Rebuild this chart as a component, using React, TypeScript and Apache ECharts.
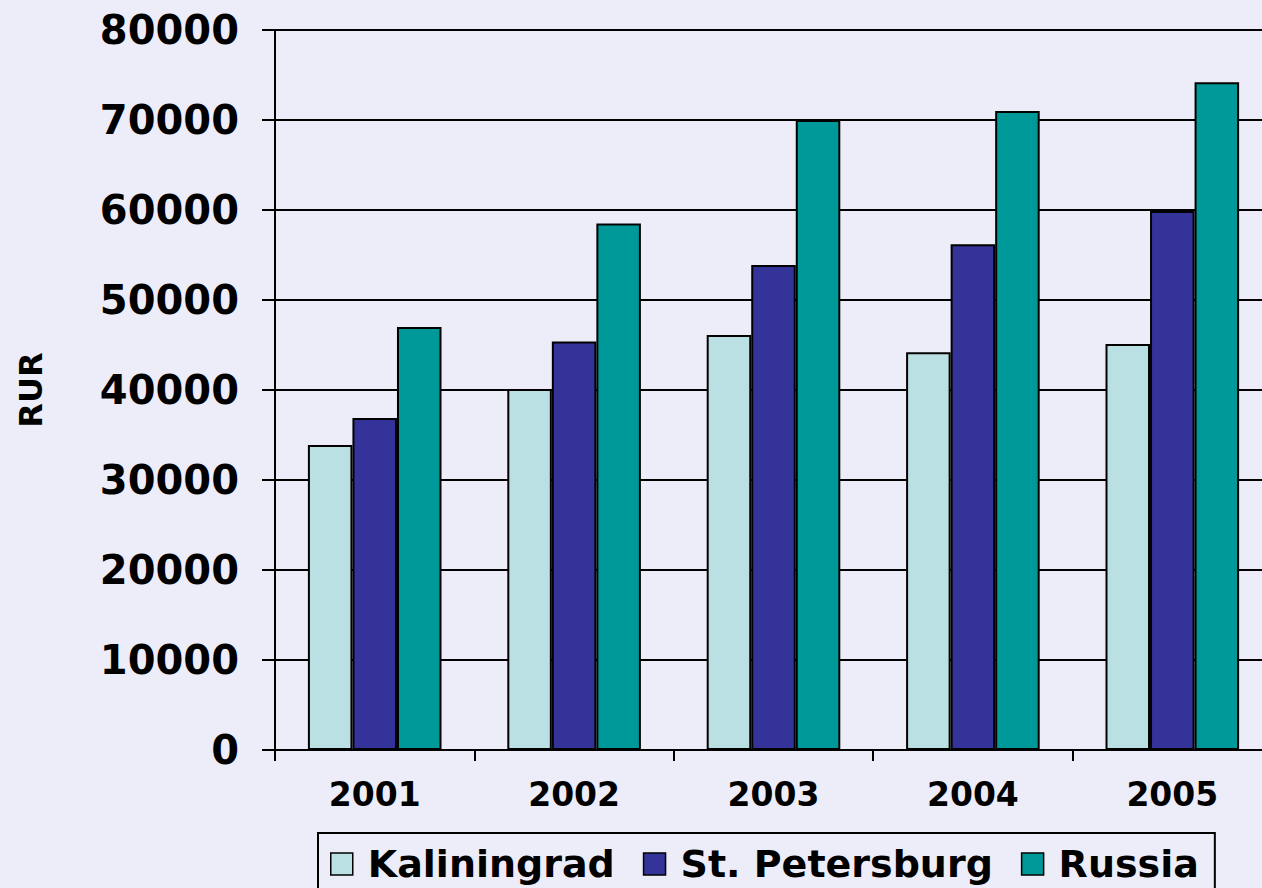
import React, { useEffect, useRef } from "react";
import * as echarts from "echarts";

const years = ["2001", "2002", "2003", "2004", "2005"];
const kaliningrad = [33900, 40100, 46100, 44200, 45100];
const stPetersburg = [36900, 45400, 53900, 56200, 59900];
const russia = [47000, 58500, 70000, 71000, 74200];
const seriesNames = ["Kaliningrad", "St. Petersburg", "Russia"];
const seriesColors = ["#BBE0E3", "#333399", "#009999"];

const BG = "#EDEDF9";
const FONT = "DejaVu Sans";

export default function App() {
  const ref = useRef<HTMLDivElement>(null);
  useEffect(() => {
    if (!ref.current) return;
    const chart = echarts.init(ref.current, undefined, { renderer: "svg" });
    const data = [kaliningrad, stPetersburg, russia];
    chart.setOption({
      animation: false,
      backgroundColor: BG,
      grid: { left: 275, top: 30, right: 0, bottom: 138, containLabel: false },
      legend: {
        left: 318,
        top: 833,
        orient: "horizontal",
        icon: "rect",
        itemWidth: 22,
        itemHeight: 22,
        itemGap: 28,
        padding: [12, 16, 40, 12],
        borderColor: "#000",
        borderWidth: 2,
        backgroundColor: BG,
        itemStyle: { borderColor: "#000", borderWidth: 1.5 },
        textStyle: {
          fontSize: 38,
          fontWeight: "bold",
          color: "#000",
          fontFamily: FONT,
          padding: [0, 0, 0, 10],
        },
        data: seriesNames,
      },
      xAxis: {
        type: "category",
        data: years,
        axisLine: { lineStyle: { color: "#000", width: 2 } },
        axisTick: { show: true, length: 11, lineStyle: { color: "#000", width: 2 } },
        axisLabel: {
          fontSize: 33,
          fontWeight: "bold",
          color: "#000",
          fontFamily: FONT,
          margin: 28,
        },
      },
      yAxis: {
        type: "value",
        min: 0,
        max: 80000,
        interval: 10000,
        name: "RUR",
        nameLocation: "middle",
        nameRotate: 90,
        nameGap: 228,
        nameTextStyle: { fontSize: 32, fontWeight: "bold", color: "#000", fontFamily: FONT },
        axisLine: { show: true, lineStyle: { color: "#000", width: 2 } },
        axisTick: { show: true, length: 13, lineStyle: { color: "#000", width: 2 } },
        splitLine: { show: true, lineStyle: { color: "#000", width: 2 } },
        axisLabel: {
          fontSize: 40,
          fontWeight: "bold",
          color: "#000",
          fontFamily: FONT,
          margin: 36,
          formatter: (v: number) => String(v),
        },
      },
      series: seriesNames.map((name, i) => ({
        name,
        type: "bar",
        data: data[i],
        barGap: "0%",
        barCategoryGap: "33%",
        itemStyle: { color: seriesColors[i], borderColor: "#000", borderWidth: 2 },
      })),
    });
    return () => chart.dispose();
  }, []);
  return (
    <div
      style={{
        position: "absolute",
        left: 0,
        top: 0,
        width: 1262,
        height: 888,
        overflow: "hidden",
        background: BG,
      }}
    >
      <div ref={ref} style={{ width: 1272, height: 888 }} />
    </div>
  );
}
